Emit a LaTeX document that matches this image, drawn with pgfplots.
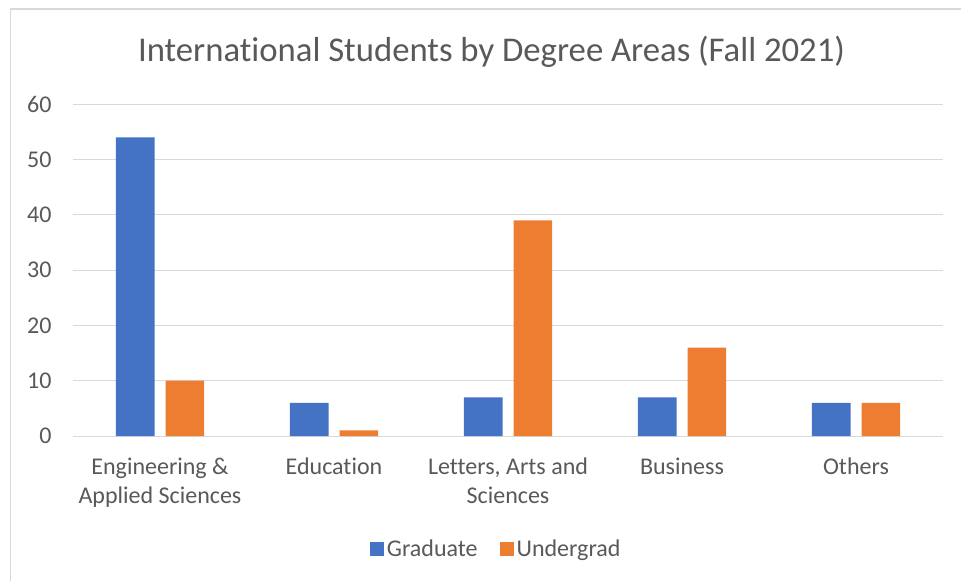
\documentclass[border=0pt]{standalone}
\usepackage{pgfplots}
\pgfplotsset{compat=1.18}
\usepackage{fontspec}
\setmainfont{Carlito}[Ligatures=NoCommon]
\definecolor{xblue}{HTML}{4472C4}
\definecolor{xorange}{HTML}{ED7D31}
\definecolor{xgray}{HTML}{595959}
\definecolor{xgrid}{HTML}{D9D9D9}
\begin{document}
\begin{tikzpicture}[x=1pt,y=1pt]
\useasboundingbox (0,0) rectangle (961,581);
\fill[white] (0,0) rectangle (961,581);
\draw[xgrid, line width=1.5pt] (10.5,0) -- (10.5,572) -- (961,572);
\node[anchor=base, text=xgray, font=\fontsize{34.7}{40}\selectfont] at (491.5,519) {International Students by Degree Areas (Fall 2021)};
\begin{axis}[
  at={(73pt,145pt)}, anchor=south west,
  scale only axis, width=870pt, height=331.7pt,
  ybar=11pt, bar width=38.7pt,
  xmin=-0.5, xmax=4.5, ymin=0, ymax=60,
  xtick=data,
  xticklabels={{Engineering \&\\Applied Sciences},Education,{Letters, Arts and\\Sciences},Business,Others},
  ytick={0,10,...,60},
  ymajorgrids, grid style={xgrid, line width=1pt},
  axis line style={draw=none},
  major tick length=0pt,
  /pgf/number format/assume math mode=true,
  tick label style={text=xgray, font=\fontsize{24}{29}\selectfont},
  xticklabel style={align=center, anchor=north, yshift=-18pt},
  yticklabel style={anchor=east, xshift=-18pt},
  legend style={at={(0.487,-0.341)}, anchor=center, draw=none, fill=none,
    legend columns=2, font=\fontsize{24}{29}\selectfont, text=xgray,
    /tikz/every even column/.append style={column sep=20pt},
    inner sep=0pt},
  legend image code/.code={\fill[#1] (0pt,-7pt) rectangle (14pt,7pt);},
  legend style={nodes={inner xsep=2.5pt}},
]
\addplot[fill=xblue, draw=none] coordinates {(0,54) (1,6) (2,7) (3,7) (4,6)};
\addplot[fill=xorange, draw=none] coordinates {(0,10) (1,1) (2,39) (3,16) (4,6)};
\legend{Graduate,Undergrad}
\end{axis}
\end{tikzpicture}
\end{document}
